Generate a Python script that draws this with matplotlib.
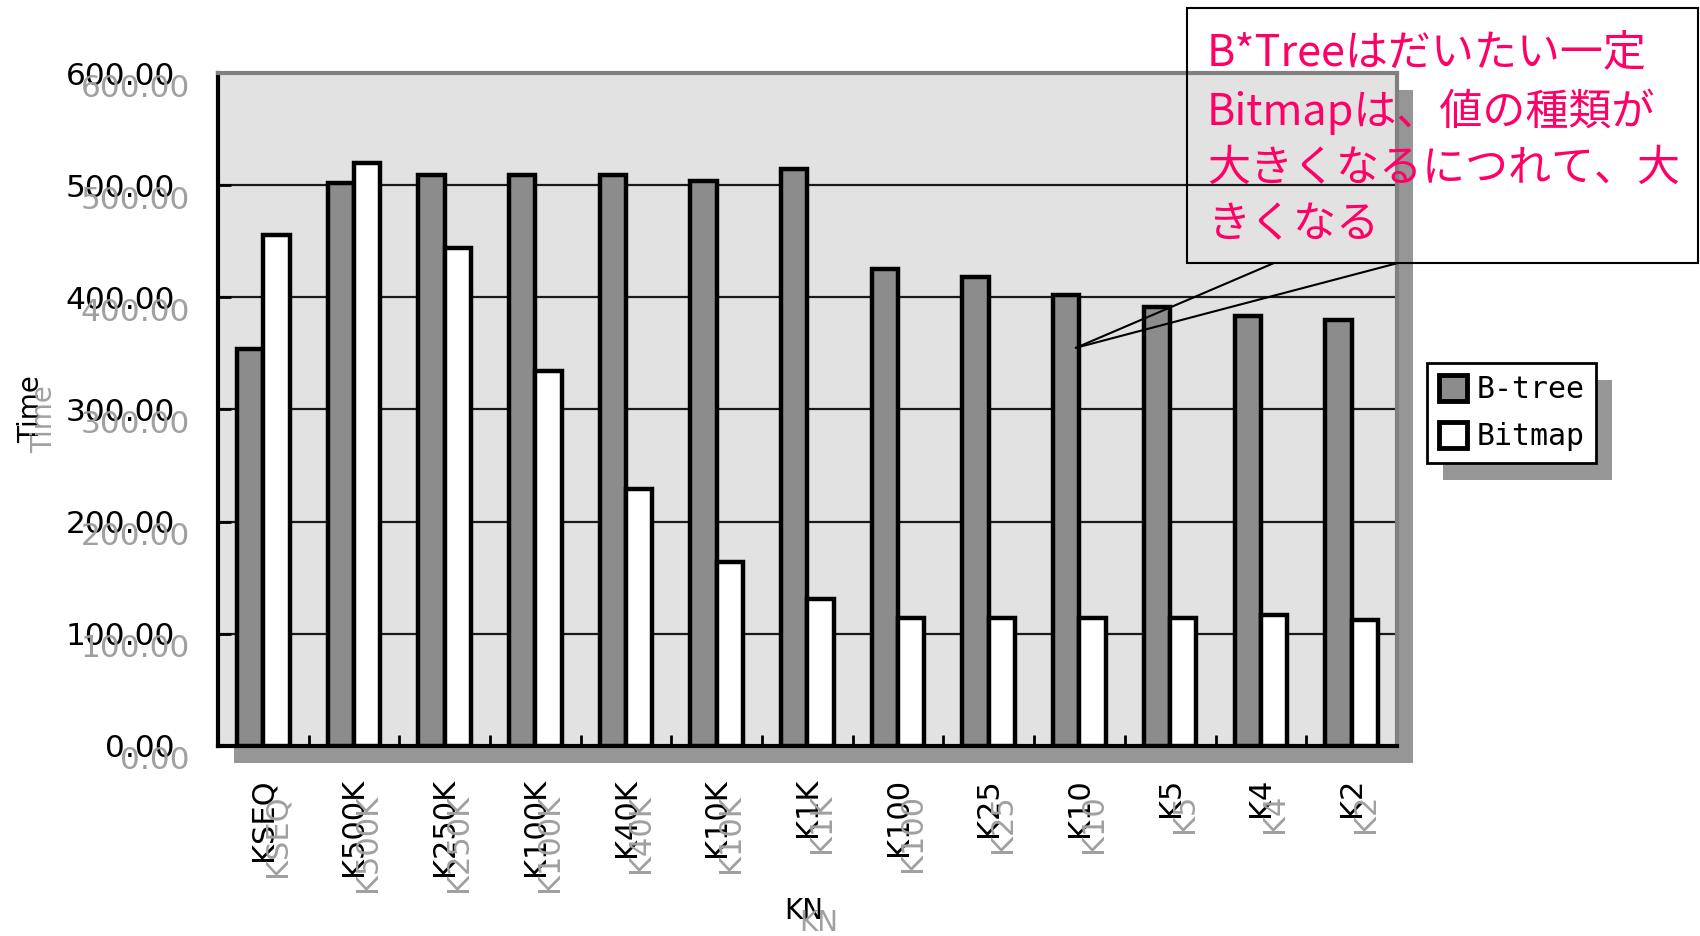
import matplotlib
matplotlib.use("Agg")
import matplotlib.pyplot as plt
import matplotlib.transforms as mtransforms
from matplotlib.patches import Rectangle, Patch
import numpy as np

# data
categories = ["KSEQ", "K500K", "K250K", "K100K", "K40K", "K10K", "K1K",
              "K100", "K25", "K10", "K5", "K4", "K2"]
btree = [354, 502, 509, 509, 509, 504, 514, 425, 418, 402, 391, 383, 380]
bitmap = [456, 520, 444, 334, 229, 164, 131, 114, 114, 114, 114, 117, 112]
yticks = [0, 100, 200, 300, 400, 500, 600]
series_names = ["B-tree", "Bitmap"]
note_lines = ["B*Treeはだいたい一定",
              "Bitmapは、値の種類が",
              "大きくなるにつれて、大",
              "きくなる"]

GREY_TXT = "#a0a0a0"
SHADOW = "#969696"
PINK = "#ff0066"
JP_FONT = ["Noto Sans CJK JP", "DejaVu Sans"]


def ghost(fig, trans, dx, dy):
    # grey double of a text, shifted by dx, dy pixels
    return mtransforms.offset_copy(trans, fig=fig, x=dx, y=dy, units="dots")


def main():
    fig = plt.figure(figsize=(17, 9.36), dpi=100)
    ax = fig.add_axes([0.1282, 0.2030, 0.6935, 0.719])
    ax.set_facecolor("#e2e2e2")

    # drop shadow behind the plot area
    shadow = Rectangle((0, 0), 1, 1,
                       transform=ax.transAxes + mtransforms.ScaledTranslation(
                           16 / 100, -17 / 100, fig.dpi_scale_trans),
                       facecolor=SHADOW, edgecolor="none", zorder=-1)
    fig.add_artist(shadow)

    x = np.arange(len(categories))
    w = 0.29
    ax.bar(x - w / 2, btree, w, color="#8c8c8c", edgecolor="black",
           linewidth=3.2, zorder=3)
    ax.bar(x + w / 2, bitmap, w, color="white", edgecolor="black",
           linewidth=3.2, zorder=3)

    ax.set_xlim(-0.5, len(categories) - 0.5)
    ax.set_ylim(0, 600)
    ax.yaxis.grid(True, color="#1a1a1a", linewidth=1.6)
    ax.set_axisbelow(True)

    for side in ["left", "bottom"]:
        ax.spines[side].set_color("black")
        ax.spines[side].set_linewidth(3)
    for side in ["top", "right"]:
        ax.spines[side].set_color("#808080")
        ax.spines[side].set_linewidth(3)

    # y axis
    ylabels = [f"{v:.2f}" for v in yticks]
    ax.set_yticks(yticks, ylabels, fontsize=22.5)
    ax.tick_params(axis="y", direction="in", length=9, width=2, pad=31)
    ytrans = ghost(fig, ax.get_yaxis_transform(), -28, -15)
    for v, lab in zip(yticks, ylabels):
        ax.text(0, v, lab, transform=ytrans, ha="right", va="center",
                fontsize=22.5, color=GREY_TXT, clip_on=False, zorder=1)

    # x axis
    ax.set_xticks(x, categories, rotation=90, fontsize=22)
    ax.tick_params(axis="x", which="major", length=0, pad=23)
    ax.set_xticks(np.arange(0.5, len(categories) - 1, 1), minor=True)
    ax.tick_params(axis="x", which="minor", direction="in", length=8, width=2)
    xtrans = ghost(fig, ax.get_xaxis_transform(), 14, -48)
    for i, lab in enumerate(categories):
        ax.text(i, 0, lab, transform=xtrans, rotation=90, ha="center",
                va="top", fontsize=22, color=GREY_TXT, clip_on=False, zorder=1)

    # axis titles, also doubled
    ax.set_ylabel("Time", fontsize=20)
    ax.yaxis.set_label_coords(-0.147, 0.5)
    ax.text(-0.147, 0.5, "Time", transform=ghost(fig, ax.transAxes, 13, -10),
            rotation=90, rotation_mode="anchor", ha="center", va="bottom",
            fontsize=20, color=GREY_TXT, clip_on=False, zorder=1)
    ax.set_xlabel("KN", fontsize=20)
    ax.xaxis.set_label_coords(0.497, -0.224)
    ax.text(0.497, -0.224, "KN", transform=ghost(fig, ax.transAxes, 15, -12),
            ha="center", va="top", fontsize=20, color=GREY_TXT,
            clip_on=False, zorder=1)

    # legend with a shadow
    handles = [Patch(facecolor="#8c8c8c", edgecolor="black", linewidth=3.5),
               Patch(facecolor="white", edgecolor="black", linewidth=3.5)]
    leg = fig.legend(handles, series_names, loc="upper left",
                     bbox_to_anchor=(1427 / 1700, 1 - 363 / 936),
                     frameon=True, fancybox=False, framealpha=1,
                     edgecolor="black", borderaxespad=0, borderpad=0.4,
                     handlelength=0.95, handleheight=0.95, handletextpad=0.3,
                     labelspacing=0.6,
                     shadow={"ox": 11.5, "oy": -12, "facecolor": SHADOW,
                             "edgecolor": "none", "alpha": 1},
                     prop={"family": "DejaVu Sans Mono", "size": 21.5})
    leg.get_frame().set_linewidth(2)

    # callout note
    box = Rectangle((1187 / 1700, 1 - 263 / 936), 511 / 1700, 255 / 936,
                    transform=fig.transFigure, fill=False,
                    edgecolor="black", linewidth=1.5, zorder=4)
    fig.add_artist(box)
    tip = (8.96, 355)
    for bx in [1274, 1398]:
        ax.annotate("", xy=tip, xycoords="data",
                    xytext=(bx / 1700, 1 - 263 / 936),
                    textcoords="figure fraction",
                    arrowprops=dict(arrowstyle="-", color="black", lw=1.5,
                                    shrinkA=0, shrinkB=0))
    fig.text(1207 / 1700, 1 - 31 / 936, "\n".join(note_lines),
             ha="left", va="top", fontsize=31, color=PINK,
             family=JP_FONT, linespacing=1.36, zorder=5)

    fig.savefig("out.png", dpi=100)


if __name__ == "__main__":
    main()
